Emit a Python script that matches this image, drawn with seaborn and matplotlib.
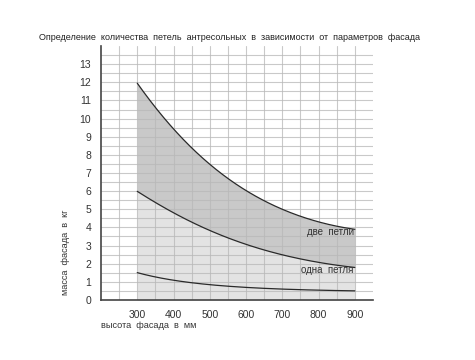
import numpy as np
import pandas as pd
import seaborn as sns
import matplotlib.pyplot as plt

# высота фасада, мм
vysota = [300, 400, 500, 600, 700, 800, 900]
# границы масс, кг
dve_petli = [12.0, 9.3, 7.6, 6.0, 5.0, 4.3, 3.9]
odna_petlya = [6.0, 4.8, 3.8, 3.1, 2.5, 2.05, 1.8]
minimum = [1.5, 1.1, 0.85, 0.68, 0.6, 0.55, 0.5]

df = pd.DataFrame({
    "vysota": vysota * 3,
    "massa": dve_petli + odna_petlya + minimum,
    "krivaya": ["две"] * 7 + ["одна"] * 7 + ["мин"] * 7,
})

sns.set_style("white")
plt.rcParams['font.family'] = ['Liberation Sans', 'DejaVu Sans']

fig = plt.figure(figsize=(4.75, 3.6), dpi=100)
ax = fig.add_axes([0.2126, 0.1667, 0.5726, 0.7055])

x_gl = np.linspace(300, 900, 200)
def gladko(xs, y):
    # сглаживание по точкам (в логарифме)
    k = np.polyfit(xs, np.log(y), 3)
    return np.exp(np.polyval(k, x_gl))

ax.fill_between(x_gl, gladko(vysota, odna_petlya), gladko(vysota, dve_petli),
                color="#c9c9c9", lw=0, zorder=1)
ax.fill_between(x_gl, 0, gladko(vysota, odna_petlya), color="#e3e3e3", lw=0, zorder=1)

sns.lineplot(data=df, x="vysota", y="massa", units="krivaya", estimator=None,
             color="#2a2a2a", lw=0.9, ax=ax, zorder=3, sort=True)
for line in ax.lines:
    xs, ys = line.get_xdata(), line.get_ydata()
    line.set_data(x_gl, gladko(xs, ys))

ax.set_xlim(200, 950)
ax.set_ylim(0, 14)
ax.set_xticks([300, 400, 500, 600, 700, 800, 900])
ax.set_xticks(np.arange(250, 901, 50), minor=True)
ax.set_yticks(np.arange(0, 14, 1))
ax.set_yticks(np.arange(0.5, 14, 0.5), minor=True)
ax.grid(which="both", color="#b8b8b8", lw=0.8, alpha=0.75, zorder=2)
ax.set_axisbelow(False)
for g in ax.get_xgridlines() + ax.get_ygridlines():
    g.set_zorder(2)

ax.tick_params(which="major", length=4, width=0.8, color="#b8b8b8",
               labelsize=7.5, labelcolor="#333333", pad=3)
ax.tick_params(which="minor", length=0)
for s in ["top", "right"]:
    ax.spines[s].set_visible(False)
for s in ["left", "bottom"]:
    ax.spines[s].set_color("#444444")
    ax.spines[s].set_linewidth(1.2)
    ax.spines[s].set_zorder(4)

ax.set_xlabel("")
ax.set_ylabel("")
fig.text(0.213, 0.097, "высота  фасада  в  мм", fontsize=6.6, color="#333333",
         ha="left", va="center")
fig.text(0.138, 0.30, "масса  фасада  в  кг", fontsize=6.6, color="#333333",
         rotation=90, ha="center", va="center")
ax.text(897, 3.75, "две  петли", fontsize=7, color="#333333", ha="right", va="center", zorder=5)
ax.text(897, 1.65, "одна  петля", fontsize=7, color="#333333", ha="right", va="center", zorder=5)

fig.text(0.483, 0.895,
         "Определение  количества  петель  антресольных  в  зависимости  от  параметров  фасада",
         fontsize=6.5, color="#222222", ha="center", va="center")

fig.savefig("out.png", dpi=100)
